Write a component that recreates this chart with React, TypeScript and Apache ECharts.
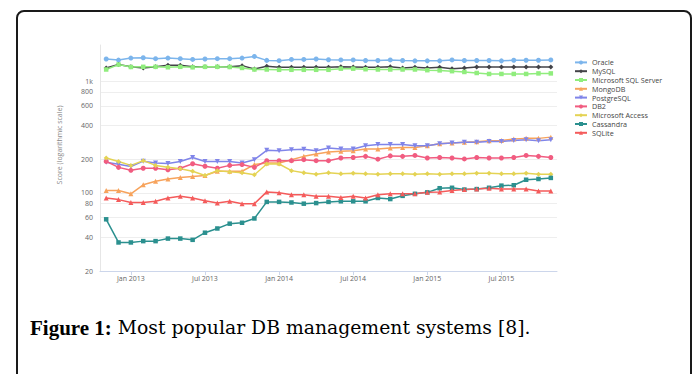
import React, { useEffect, useRef } from 'react';
import * as echarts from 'echarts';

const months = [
  'Nov 2012', 'Dec 2012',
  'Jan 2013', 'Feb 2013', 'Mar 2013', 'Apr 2013', 'May 2013', 'Jun 2013', 'Jul 2013', 'Aug 2013', 'Sep 2013', 'Oct 2013', 'Nov 2013', 'Dec 2013',
  'Jan 2014', 'Feb 2014', 'Mar 2014', 'Apr 2014', 'May 2014', 'Jun 2014', 'Jul 2014', 'Aug 2014', 'Sep 2014', 'Oct 2014', 'Nov 2014', 'Dec 2014',
  'Jan 2015', 'Feb 2015', 'Mar 2015', 'Apr 2015', 'May 2015', 'Jun 2015', 'Jul 2015', 'Aug 2015', 'Sep 2015', 'Oct 2015', 'Nov 2015',
];

const oracle = [1575, 1540, 1605, 1615, 1585, 1605, 1585, 1560, 1575, 1585, 1585, 1605, 1660, 1530, 1520, 1560, 1560, 1575, 1550, 1545, 1545, 1525, 1525, 1545, 1525, 1515, 1515, 1515, 1545, 1525, 1525, 1525, 1515, 1535, 1535, 1535, 1545];
const mysql = [1309, 1403, 1344, 1309, 1344, 1384, 1384, 1344, 1344, 1344, 1344, 1373, 1282, 1353, 1327, 1327, 1327, 1327, 1327, 1340, 1335, 1327, 1327, 1344, 1309, 1327, 1309, 1327, 1290, 1309, 1335, 1335, 1335, 1335, 1335, 1335, 1335];
const mssql = [1268, 1403, 1335, 1340, 1340, 1327, 1340, 1327, 1340, 1340, 1335, 1309, 1268, 1268, 1260, 1260, 1260, 1260, 1260, 1290, 1290, 1275, 1268, 1268, 1268, 1268, 1250, 1245, 1225, 1205, 1180, 1157, 1157, 1157, 1157, 1170, 1170];
const mongodb = [105, 105, 98, 118, 127, 133, 137, 140, 143, 156, 156, 156, 179, 185, 185, 198, 212, 223, 232, 235, 238, 247, 247, 252, 255, 255, 264, 275, 279, 283, 286, 292, 294, 303, 307, 307, 315];
const postgresql = [188, 180, 172, 192, 185, 183, 191, 207, 191, 191, 191, 185, 198, 240, 238, 243, 245, 238, 252, 247, 247, 264, 270, 270, 270, 264, 264, 275, 279, 283, 283, 288, 288, 294, 299, 292, 299];
const db2 = [191, 169, 159, 166, 166, 161, 166, 182, 173, 166, 176, 179, 169, 194, 194, 194, 198, 194, 194, 205, 207, 212, 200, 214, 212, 216, 205, 207, 205, 201, 207, 205, 205, 207, 216, 212, 207];
const access = [205, 191, 176, 194, 176, 169, 164, 156, 143, 158, 154, 151, 145, 181, 181, 158, 151, 147, 151, 148, 150, 148, 147, 148, 148, 147, 148, 147, 148, 148, 150, 150, 148, 148, 150, 147, 147];
const cassandra = [58, 36, 36, 37, 37, 39, 39, 38, 44, 48, 53, 54, 59, 83, 83, 82, 80, 81, 83, 84, 84, 84, 90, 88, 94, 98, 101, 110, 111, 107, 108, 111, 116, 117, 131, 133, 136];
const sqlite = [90, 87, 82, 82, 84, 90, 93, 90, 85, 81, 84, 80, 80, 102, 100, 96, 96, 93, 93, 91, 93, 90, 96, 98, 98, 98, 101, 102, 105, 107, 108, 110, 108, 108, 108, 104, 104];

const yTicks = [20, 40, 60, 80, 100, 200, 400, 600, 800, 1000];

const seriesDefs = [
  { name: 'Oracle', data: oracle, color: '#7cb5ec', symbol: 'circle', rotate: 0 },
  { name: 'MySQL', data: mysql, color: '#434348', symbol: 'diamond', rotate: 0 },
  { name: 'Microsoft SQL Server', data: mssql, color: '#90ed7d', symbol: 'rect', rotate: 0 },
  { name: 'MongoDB', data: mongodb, color: '#f7a35c', symbol: 'triangle', rotate: 0 },
  { name: 'PostgreSQL', data: postgresql, color: '#8085e9', symbol: 'triangle', rotate: 180 },
  { name: 'DB2', data: db2, color: '#f15c80', symbol: 'circle', rotate: 0 },
  { name: 'Microsoft Access', data: access, color: '#e4d354', symbol: 'diamond', rotate: 0 },
  { name: 'Cassandra', data: cassandra, color: '#2b908f', symbol: 'rect', rotate: 0 },
  { name: 'SQLite', data: sqlite, color: '#f45b5b', symbol: 'triangle', rotate: 0 },
];

const labelFont = '"Open Sans", "DejaVu Sans", sans-serif';

export default function App() {
  const ref = useRef<HTMLDivElement>(null);
  useEffect(() => {
    document.body.style.margin = '0';
    const chart = echarts.init(ref.current!, null, { renderer: 'svg' });
    const showIdx = (i: number) => (i - 2) % 6 === 0;
    chart.setOption({
      animation: false,
      backgroundColor: '#ffffff',
      grid: { left: 100, right: 138, top: 45, bottom: 103 },
      legend: {
        orient: 'vertical',
        left: 569,
        top: 53,
        itemWidth: 12,
        itemHeight: 5,
        itemGap: 0,
        data: seriesDefs.map((s) => s.name),
        textStyle: { fontSize: 7.2, lineHeight: 8.8, color: '#444', fontFamily: labelFont },
      },
      xAxis: {
        type: 'category',
        data: months,
        boundaryGap: true,
        axisLine: { lineStyle: { color: '#ccd6eb', width: 1 } },
        axisTick: { show: true, alignWithLabel: true, interval: (i: number) => showIdx(i), length: 4, lineStyle: { color: '#ccd6eb' } },
        axisLabel: { interval: (i: number) => showIdx(i), fontSize: 7, color: '#666', margin: 4, fontFamily: labelFont },
        splitLine: { show: false },
      },
      yAxis: {
        type: 'log',
        logBase: 10,
        min: 20,
        max: 2100,
        name: 'Score (logarithmic scale)',
        nameLocation: 'middle',
        nameGap: 37,
        nameTextStyle: { fontSize: 7, color: '#888', fontFamily: labelFont, padding: [0, 0, 0, 26] },
        axisLine: { show: true, lineStyle: { color: '#e6e6e6' } },
        axisTick: { show: false, customValues: yTicks },
        axisLabel: {
          customValues: yTicks,
          fontSize: 7,
          color: '#666',
          margin: 7,
          fontFamily: labelFont,
          formatter: (v: number) => (v >= 1000 ? v / 1000 + 'k' : String(v)),
        },
        splitLine: { show: true, lineStyle: { color: '#eeeeee', width: 1 } },
      },
      series: seriesDefs.map((s) => ({
        name: s.name,
        type: 'line',
        data: s.data,
        symbol: s.symbol,
        symbolRotate: s.rotate,
        symbolSize: s.symbol === 'rect' ? 4.5 : 5,
        showSymbol: true,
        color: s.color,
        lineStyle: { width: 1.5, color: s.color },
        itemStyle: { color: s.color },
        emphasis: { disabled: true },
      })),
      graphic: [
        {
          type: 'rect',
          shape: { x: 17, y: 11, width: 674, height: 420, r: 7 },
          style: { fill: 'none', stroke: '#1a1a1a', lineWidth: 2 },
          silent: true,
        },
        {
          type: 'text',
          x: 30,
          y: 317,
          style: {
            text: '{b|Figure 1:} {r|Most popular DB management systems [8].}',
            fontSize: 18.8,
            fontFamily: '"DejaVu Serif", serif',
            fill: '#000',
            rich: {
              b: { fontSize: 21, fontWeight: 'bold', fontFamily: '"Liberation Serif", serif', fill: '#000' },
              r: { fontSize: 18.8, fontFamily: '"DejaVu Serif", serif', fill: '#000' },
            },
          },
          silent: true,
        },
      ],
    });
    return () => chart.dispose();
  }, []);
  return <div ref={ref} style={{ width: 695, height: 374 }} />;
}
